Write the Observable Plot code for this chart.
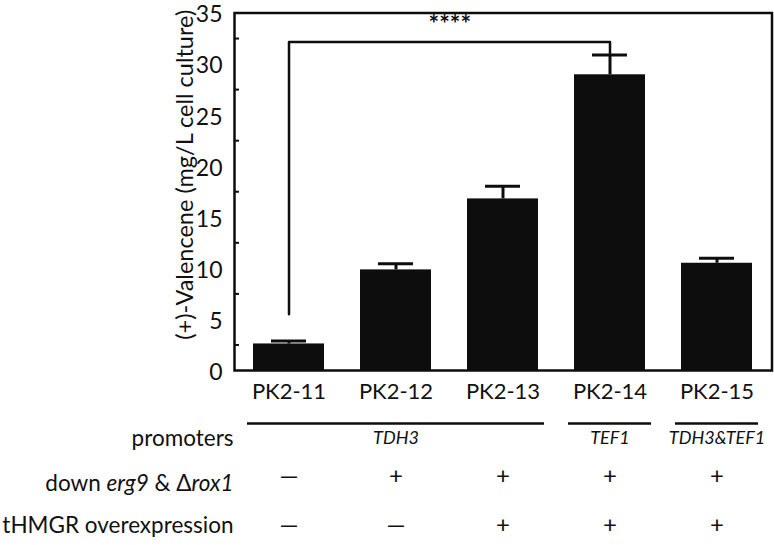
<!DOCTYPE html>
<html>
<head>
<meta charset="utf-8">
<script src="https://cdn.jsdelivr.net/npm/d3@7"></script>
<script src="https://cdn.jsdelivr.net/npm/@observablehq/plot@0.6"></script>
<style>
  html, body { margin: 0; padding: 0; background: #fff; }
  #chart svg { display: block; font-family: Lato, "Open Sans", sans-serif; }
</style>
</head>
<body>
<div id="chart"></div>
<script>
const categories = ["PK2-11", "PK2-12", "PK2-13", "PK2-14", "PK2-15"];
const values = [2.6, 9.85, 16.8, 28.95, 10.5];
const errors = [0.3, 0.6, 1.25, 1.95, 0.5];
const yTicks = [0, 5, 10, 15, 20, 25, 30, 35];
const yMinorTicks = [2.5, 7.5, 12.5, 17.5, 22.5, 27.5, 32.5];
const yLabel = "(+)-Valencene (mg/L cell culture)";
const promoterLabels = ["TDH3", "TEF1", "TDH3&TEF1"];
const promoterFrom = ["PK2-11", "PK2-14", "PK2-15"];
const promoterTo = ["PK2-13", "PK2-14", "PK2-15"];
const promoterCenter = ["PK2-12", "PK2-14", "PK2-15"];
const downErg9 = ["—", "+", "+", "+", "+"];
const tHMGR = ["—", "—", "+", "+", "+"];
const rowLabels = ["promoters", "down erg9 & Δrox1", "tHMGR overexpression"];
const sigFrom = "PK2-11", sigTo = "PK2-14", sigLow = 5.5, sigHigh = 32.15, sigText = "****";

const data = categories.map((c, i) => ({cat: c, value: values[i], err: errors[i], erg: downErg9[i], hmgr: tHMGR[i]}));
const groups = promoterLabels.map((l, i) => ({label: l, from: promoterFrom[i], to: promoterTo[i], center: promoterCenter[i]}));
const bracket = [
  {cat: sigFrom, v: sigLow}, {cat: sigFrom, v: sigHigh},
  {cat: sigTo, v: sigHigh}, {cat: sigTo, v: values[categories.indexOf(sigTo)] + errors[categories.indexOf(sigTo)]}
];

const W = 774, H = 545, mL = 234, mR = 2.5, mT = 12.5, mB = 175;
const ink = "#0d0d0d";

const chart = Plot.plot({
  width: W, height: H,
  marginLeft: mL, marginRight: mR, marginTop: mT, marginBottom: mB,
  style: {fontFamily: "Lato, 'Open Sans', sans-serif", color: "#111", background: "#fff"},
  x: {domain: categories, paddingInner: 0.335, paddingOuter: 0.1675, axis: null},
  y: {domain: [0, 35], axis: null},
  marks: [
    Plot.barY(data, {x: "cat", y: "value", fill: ink}),
    Plot.ruleX(data, {x: "cat", y1: "value", y2: d => d.value + d.err, stroke: ink, strokeWidth: 3}),
    Plot.tickY(data, {x: "cat", y: d => d.value + d.err, stroke: ink, strokeWidth: 3, insetLeft: 18, insetRight: 18}),
    Plot.line(bracket, {x: "cat", y: "v", stroke: ink, strokeWidth: 2.5}),
    Plot.text([sigText], {x: () => "PK2-12", y: () => 33.8, dx: 53.75, text: d => d, fontSize: 25, fontWeight: "bold", fill: ink}),
    Plot.frame({stroke: ink, strokeWidth: 2.5}),
    Plot.tickY(yMinorTicks, {y: d => d, stroke: ink, strokeWidth: 2, insetRight: W - mL - mR - 5}),
    Plot.axisY(yTicks, {tickSize: 0, tickPadding: 12, fontSize: 23, dy: 2, label: null}),
    Plot.text([yLabel], {frameAnchor: "left", textAnchor: "middle", rotate: -90, dx: -49, dy: -17, text: d => d, fontSize: 23.5, fill: "#111"}),
    Plot.text(data, {x: "cat", text: "cat", frameAnchor: "bottom", dy: 28, fontSize: 22, fill: "#111"}),
    Plot.ruleY(groups, {x1: "from", x2: "to", y: () => 0, dy: 53, insetLeft: -6, insetRight: -6, stroke: ink, strokeWidth: 2.5}),
    Plot.text(groups, {x: "center", text: "label", frameAnchor: "bottom", dy: 73, fontSize: 18, fontStyle: "italic", fill: "#111"}),
    Plot.text(data, {x: "cat", text: "erg", frameAnchor: "bottom", dy: 113, fontSize: 24, fill: "#111"}),
    Plot.text(data, {x: "cat", text: "hmgr", frameAnchor: "bottom", dy: 162, fontSize: 24, fill: "#111"}),
    Plot.text([rowLabels[0]], {text: d => d, frameAnchor: "bottom-left", textAnchor: "end", dx: -1, dy: 75, fontSize: 22.5, fill: "#111"}),
    Plot.text([rowLabels[1]], {text: d => d, frameAnchor: "bottom-left", textAnchor: "end", dx: -1, dy: 120, fontSize: 22.5, fill: "#111"}),
    Plot.text([rowLabels[2]], {text: d => d, frameAnchor: "bottom-left", textAnchor: "end", dx: -1, dy: 162, fontSize: 22.5, fill: "#111"})
  ]
});

// italicise gene names in the row label
d3.select(chart).selectAll("text").each(function () {
  if (this.textContent === rowLabels[1]) {
    const t = d3.select(this);
    t.text(null);
    t.append("tspan").text("down ");
    t.append("tspan").attr("font-style", "italic").text("erg9");
    t.append("tspan").text(" & Δ");
    t.append("tspan").attr("font-style", "italic").text("rox1");
  }
});

document.getElementById("chart").appendChild(chart);
</script>
</body>
</html>
